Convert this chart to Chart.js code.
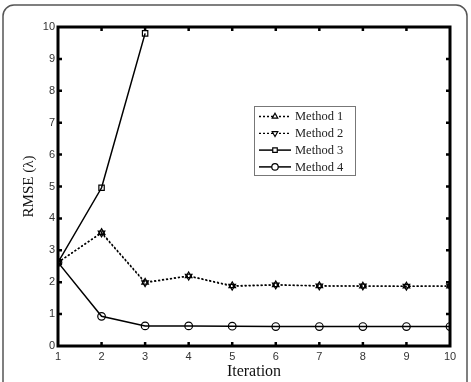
<!DOCTYPE html>
<html>
<head>
<meta charset="utf-8">
<script src="https://cdn.jsdelivr.net/npm/chart.js@4/dist/chart.umd.min.js"></script>
<style>
  html, body { margin: 0; padding: 0; background: #fff; }
  #wrap { width: 471px; height: 382px; position: relative; }
</style>
</head>
<body>
<div id="wrap"><canvas id="c"></canvas></div>
<script>
// iterations and RMSE per method
const iterations = [1, 2, 3, 4, 5, 6, 7, 8, 9, 10];
const method1 = [2.62, 3.56, 2.0, 2.2, 1.89, 1.92, 1.89, 1.88, 1.88, 1.88];
const method2 = [2.62, 3.54, 1.98, 2.19, 1.87, 1.91, 1.88, 1.88, 1.87, 1.88];
const method3 = [2.62, 4.96, 9.8, null, null, null, null, null, null, null];
const method4 = [2.62, 0.93, 0.63, 0.63, 0.62, 0.61, 0.61, 0.61, 0.61, 0.61];
const yTicks = [0, 1, 2, 3, 4, 5, 6, 7, 8, 9, 10];

const pts = (arr) => iterations.map((x, i) => ({ x: x, y: arr[i] }));

const serif = "'Liberation Serif', 'Times New Roman', serif";
const sans = "'Liberation Sans', Arial, sans-serif";

const series = [
  { label: "Method 1", data: pts(method1), dash: [2, 2], width: 1.3, style: "triangle", rot: 0 },
  { label: "Method 2", data: pts(method2), dash: [2, 2], width: 1.3, style: "triangle", rot: 180 },
  { label: "Method 3", data: pts(method3), dash: [], width: 1.5, style: "rect", rot: 0 },
  { label: "Method 4", data: pts(method4), dash: [], width: 1.5, style: "circle", rot: 0 },
];

// outer rounded frame behind everything
const framePlugin = {
  id: "frame",
  beforeDraw(chart) {
    const ctx = chart.ctx;
    ctx.save();
    ctx.fillStyle = "#fff";
    ctx.fillRect(0, 0, chart.width, chart.height);
    ctx.strokeStyle = "#555";
    ctx.lineWidth = 1.5;
    ctx.beginPath();
    ctx.roundRect(3, 5, 464, 400, 11);
    ctx.stroke();
    ctx.restore();
  }
};

// matlab style box with inward ticks
const boxPlugin = {
  id: "box",
  afterDatasetsDraw(chart) {
    const { ctx, chartArea: a, scales } = chart;
    ctx.save();
    ctx.strokeStyle = "#000";
    ctx.lineWidth = 2.5;
    iterations.slice(1, -1).forEach((v) => {
      const px = scales.x.getPixelForValue(v);
      ctx.beginPath();
      ctx.moveTo(px, a.bottom); ctx.lineTo(px, a.bottom - 4);
      ctx.moveTo(px, a.top); ctx.lineTo(px, a.top + 4);
      ctx.stroke();
    });
    yTicks.slice(1, -1).forEach((v) => {
      const py = scales.y.getPixelForValue(v);
      ctx.beginPath();
      ctx.moveTo(a.left, py); ctx.lineTo(a.left + 4, py);
      ctx.moveTo(a.right, py); ctx.lineTo(a.right - 4, py);
      ctx.stroke();
    });
    ctx.lineWidth = 3;
    ctx.strokeRect(a.left, a.top, a.right - a.left, a.bottom - a.top);
    ctx.restore();
  }
};

// legend box inside the plot
const legendPlugin = {
  id: "boxLegend",
  afterDraw(chart) {
    const ctx = chart.ctx;
    const bx = 254, by = 106, bw = 101, bh = 69;
    ctx.save();
    ctx.fillStyle = "#fff";
    ctx.fillRect(bx, by, bw, bh);
    ctx.strokeStyle = "#777";
    ctx.lineWidth = 1;
    ctx.strokeRect(bx + 0.5, by + 0.5, bw, bh);
    ctx.font = "12.5px " + serif;
    ctx.textBaseline = "middle";
    series.forEach((s, i) => {
      const y = by + 10.5 + i * 16.8;
      ctx.strokeStyle = "#000";
      ctx.lineWidth = s.width;
      ctx.setLineDash(s.dash);
      ctx.beginPath();
      ctx.moveTo(bx + 5, y); ctx.lineTo(bx + 37, y);
      ctx.stroke();
      ctx.setLineDash([]);
      ctx.lineWidth = 1.2;
      ctx.fillStyle = "#fff";
      Chart.helpers.drawPoint(ctx, { pointStyle: s.style, rotation: s.rot, radius: 3.2, borderWidth: 1.2 }, bx + 21, y);
      ctx.fillStyle = "#222";
      ctx.fillText(s.label, bx + 41, y + 0.5);
    });
    ctx.restore();
  }
};

new Chart(document.getElementById("c"), {
  type: "line",
  data: {
    datasets: series.map((s) => ({
      label: s.label,
      data: s.data,
      borderColor: "#000",
      borderWidth: s.width,
      borderDash: s.dash,
      pointStyle: s.style,
      pointRotation: s.rot,
      pointRadius: 3.8,
      pointBorderWidth: 1.2,
      pointBorderColor: "#000",
      pointBackgroundColor: "rgba(0,0,0,0)",
      tension: 0,
      spanGaps: false,
    })),
  },
  options: {
    responsive: true,
    maintainAspectRatio: false,
    animation: false,
    devicePixelRatio: 1,
    layout: { padding: { top: 27, right: 21, left: 0, bottom: 0 } },
    plugins: { legend: { display: false }, tooltip: { enabled: false } },
    scales: {
      x: {
        type: "linear",
        min: 1,
        max: 10,
        grid: { display: false, drawTicks: false },
        border: { display: false },
        ticks: { stepSize: 1, color: "#333", font: { family: sans, size: 11 }, padding: 4, maxRotation: 0 },
        title: { display: true, text: "Iteration", color: "#111", font: { family: serif, size: 16 }, padding: { top: 0, bottom: 1 } },
        afterFit(scale) { scale.height = 36; },
      },
      y: {
        min: 0,
        max: 10,
        grid: { display: false, drawTicks: false },
        border: { display: false },
        ticks: { stepSize: 1, color: "#333", font: { family: sans, size: 11 }, padding: 3 },
        title: { display: true, text: "RMSE (λ)", color: "#111", font: { family: serif, size: 15 }, padding: { top: 19.6, bottom: 0 } },
        afterFit(scale) { scale.width = 58; },
      },
    },
  },
  plugins: [framePlugin, boxPlugin, legendPlugin],
});
</script>
</body>
</html>
